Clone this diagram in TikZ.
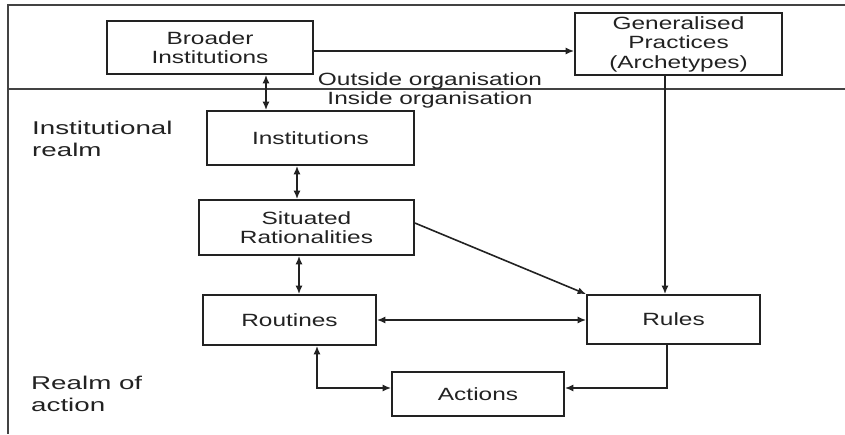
\documentclass[tikz,border=0pt]{standalone}
\usepackage{fontspec}
\setmainfont{Liberation Sans}[FakeStretch=1.38]
\newfontfamily\lblfont{Liberation Sans}[FakeStretch=1.5]
\usetikzlibrary{arrows.meta}
\definecolor{ink}{HTML}{222222}
\begin{document}
\begin{tikzpicture}[x=1pt,y=-1pt,
  box/.style={draw=ink,line width=1.7pt,align=center,inner sep=0pt,text=ink,
    font=\fontsize{17.7}{19.5}\selectfont},
  lbl/.style={align=left,inner sep=0pt,text=ink,anchor=north west,
    font=\lblfont\fontsize{18.5}{21.5}\selectfont},
  mid/.style={inner sep=0pt,text=ink,font=\fontsize{17.7}{19.5}\selectfont},
  arr/.style={draw=ink,line width=1.6pt,-{Latex[length=8.5pt,width=7pt]}},
  darr/.style={draw=ink,line width=1.6pt,{Latex[length=8.5pt,width=7pt]}-{Latex[length=8.5pt,width=7pt]}},
  frame/.style={draw=ink!85,line width=1.3pt}]
\useasboundingbox (0,0) rectangle (845,434);
% frame
\draw[frame] (845,5) -- (8,5) -- (8,434);
\draw[frame] (8,89) -- (845,89);
% boxes
\node[box,minimum width=206pt,minimum height=53pt] (B) at (210,47.5) {Broader\\Institutions};
\node[box,minimum width=207pt,minimum height=62pt] (G) at (678.5,44) {Generalised\\Practices\\(Archetypes)};
\node[box,minimum width=207pt,minimum height=54pt] (I) at (310.5,138) {Institutions};
\node[box,minimum width=215pt,minimum height=55pt] (S) at (306.5,227.5) {Situated\\Rationalities};
\node[box,minimum width=173pt,minimum height=50pt] (Ro) at (289.5,320) {Routines};
\node[box,minimum width=173pt,minimum height=49pt] (R) at (673.5,319.5) {Rules};
\node[box,minimum width=172pt,minimum height=44pt] (A) at (478,394) {Actions};
% texts
\node[mid] (out) at (430,81) {Outside organisation};
\node[mid] (in) at (430,100) {Inside organisation};
\node[lbl] (ir) at (32,121) {Institutional\\realm};
\node[lbl] (ra) at (31,376) {Realm of\\action};
% connectors
\draw[arr] (B.east |- 0,51) -- (G.west |- 0,51);
\draw[darr] (B.south -| 266,0) -- (I.north -| 266,0);
\draw[darr] (I.south -| 297,0) -- (S.north -| 297,0);
\draw[darr] (S.south -| 299,0) -- (Ro.north -| 299,0);
\draw[arr] (S.east |- 0,223) -- (R.north west);
\draw[arr] (G.south -| 665,0) -- (R.north -| 665,0);
\draw[darr] (Ro.east |- 0,320) -- (R.west |- 0,320);
\draw[arr] (R.south -| 667,0) |- (A.east |- 0,388);
\draw[darr] (Ro.south -| 317,0) |- (A.west |- 0,388);
\end{tikzpicture}
\end{document}
